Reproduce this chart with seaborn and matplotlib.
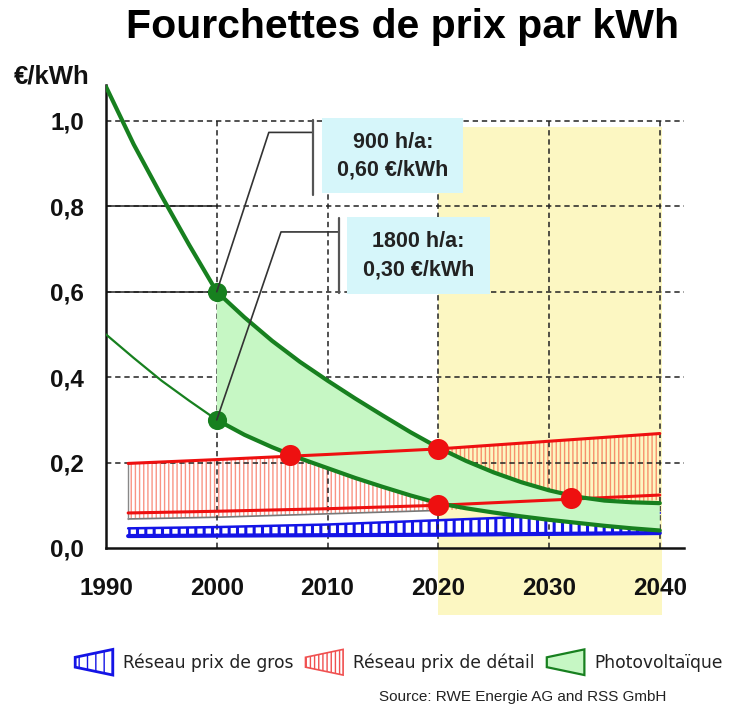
import matplotlib
matplotlib.use("Agg")
import matplotlib.pyplot as plt
import seaborn as sns
import pandas as pd
from matplotlib.patches import Polygon, Rectangle, Patch
from matplotlib.legend_handler import HandlerPatch

# ---------------- data ----------------
years = [1990, 1992.5, 1995, 1997.5, 2000, 2002.5, 2005, 2007.5, 2010, 2012.5, 2015,
         2017.5, 2020, 2022.5, 2025, 2027.5, 2030, 2032.5, 2035, 2037.5, 2040]
pv_900 = [1.080, 0.945, 0.825, 0.710, 0.600, 0.540, 0.485, 0.436, 0.392, 0.350, 0.310,
          0.271, 0.235, 0.204, 0.177, 0.154, 0.135, 0.120, 0.111, 0.107, 0.105]
pv_1800 = [0.500, 0.445, 0.392, 0.345, 0.300, 0.265, 0.236, 0.210, 0.187, 0.164, 0.143,
           0.123, 0.105, 0.093, 0.083, 0.074, 0.066, 0.059, 0.052, 0.046, 0.041]

band_years = [1992, 2000, 2010, 2020, 2030, 2040]
retail_high = [0.198, 0.207, 0.219, 0.232, 0.250, 0.268]
retail_low = [0.082, 0.086, 0.092, 0.100, 0.112, 0.124]
retail_shadow = [0.068, 0.072, 0.080, 0.088, 0.100, 0.112]
wholesale_low = [0.028, 0.029, 0.030, 0.031, 0.033, 0.035]
wholesale_high = [0.046, 0.049, 0.055, 0.065, 0.075, 0.082]

cross_x = [2006.6, 2020, 2020, 2032]
cross_y = [0.218, 0.232, 0.100, 0.116]
pv_start_x = [2000, 2000]
pv_start_y = [0.60, 0.30]

xticks = [1990, 2000, 2010, 2020, 2030, 2040]
yticks = [0.0, 0.2, 0.4, 0.6, 0.8, 1.0]
ytick_labels = ["0,0", "0,2", "0,4", "0,6", "0,8", "1,0"]

labels = ["Réseau prix de gros", "Réseau prix de détail", "Photovoltaïque"]
box_texts = ["900 h/a:\n0,60 €/kWh", "1800 h/a:\n0,30 €/kWh"]

# ---------------- style ----------------
sns.set_theme(style="white")
plt.rcParams["font.family"] = ["Liberation Sans", "DejaVu Sans"]
plt.rcParams["hatch.linewidth"] = 1.0

GREEN_D = "#17801f"
GREEN_L = "#c6f7c4"
RED = "#ee1010"
BLUE = "#1414e6"
YELLOW = "#fcf7c2"
CYAN = "#d6f6fa"

fig = plt.figure(figsize=(7.46, 7.06), dpi=100)
ax = fig.add_axes([0.1421, 0.2238, 0.775, 0.6558])
ax.set_xlim(1990, 2042.2)
ax.set_ylim(0, 1.084)

# yellow forecast zone (extends below the axis)
ax.add_patch(Rectangle((2020, -0.157), 20.2, 0.985 + 0.157, facecolor=YELLOW,
                       edgecolor="none", zorder=0.1, clip_on=False))

# grid
for y in yticks[1:]:
    ax.plot([1990, 2042.2], [y, y], color="#222222", lw=1.1, ls=(0, (3.5, 2.5)), zorder=2.2)
for y in [0.6, 0.8]:
    ax.plot([1990, 2000], [y, y], color="#222222", lw=1.1, zorder=2.2)
for x in xticks[1:]:
    ax.plot([x, x], [0, 1.0], color="#222222", lw=1.1, ls=(0, (3.5, 2.5)), zorder=2.2)

# retail band (red hatch)
with plt.rc_context({"hatch.linewidth": 1.0}):
    red_fill = ax.fill_between(band_years, retail_shadow, retail_high, facecolor="none",
                               edgecolor=(0.96, 0.3, 0.2, 0.6), hatch="||||", linewidth=0,
                               zorder=2)
    if hasattr(red_fill, "set_hatch_linewidth"):
        red_fill.set_hatch_linewidth(1.0)
ax.plot(band_years[:4], retail_shadow[:4], color="#777777", lw=1.2, zorder=2.1)
ax.plot([band_years[0], band_years[0]], [retail_shadow[0], retail_high[0]], color="#888888",
        lw=1.0, zorder=2.1)

# wholesale band (blue boxes)
with plt.rc_context({"hatch.linewidth": 2.2}):
    blue_fill = ax.fill_between(band_years, wholesale_low, wholesale_high, facecolor="white",
                                edgecolor=BLUE, hatch="||", linewidth=0, zorder=2)
    if hasattr(blue_fill, "set_hatch_linewidth"):
        blue_fill.set_hatch_linewidth(2.2)
ax.plot(band_years, wholesale_low, color=BLUE, lw=3, zorder=2.5)
ax.plot(band_years, wholesale_high, color=BLUE, lw=1.8, zorder=2.5)

# photovoltaic range
ax.fill_between(years[4:], pv_1800[4:], pv_900[4:], facecolor=GREEN_L, edgecolor="none", zorder=3)

df_ret = pd.DataFrame({"year": band_years * 2, "value": retail_high + retail_low,
                       "s": ["h"] * len(band_years) + ["l"] * len(band_years)})
sns.lineplot(data=df_ret, x="year", y="value", units="s", estimator=None, color=RED,
             lw=2.2, ax=ax, zorder=4)

df_pv = pd.DataFrame({"year": years, "p900": pv_900, "p1800": pv_1800})
sns.lineplot(data=df_pv, x="year", y="p900", color=GREEN_D, lw=3, ax=ax, zorder=4.5)
sns.lineplot(data=df_pv.iloc[:5], x="year", y="p1800", color=GREEN_D, lw=1.6, ax=ax, zorder=4.5)
sns.lineplot(data=df_pv.iloc[4:], x="year", y="p1800", color=GREEN_D, lw=3, ax=ax, zorder=4.5)

sns.scatterplot(x=pv_start_x, y=pv_start_y, color=GREEN_D, s=190, linewidth=0, ax=ax, zorder=6)
sns.scatterplot(x=cross_x, y=cross_y, color=RED, s=230, linewidth=0, ax=ax, zorder=6)

# annotation boxes with leader lines
ax.plot([2000, 2004.7, 2008.7], [0.60, 0.973, 0.973], color="#333333", lw=1.2, zorder=7)
ax.plot([2008.7, 2008.7], [1.002, 0.827], color="#555555", lw=1.6, zorder=7)
ax.add_patch(Rectangle((2009.5, 0.831), 12.7, 0.176, facecolor=CYAN, edgecolor="none", zorder=7))
ax.text(2015.9, 0.917, box_texts[0], ha="center", va="center", fontsize=15.5,
        fontweight="bold", color="#222222", linespacing=1.45, zorder=8)

ax.plot([2000, 2005.8, 2011.0], [0.30, 0.740, 0.740], color="#333333", lw=1.2, zorder=7)
ax.plot([2011.0, 2011.0], [0.773, 0.597], color="#555555", lw=1.6, zorder=7)
ax.add_patch(Rectangle((2011.75, 0.595), 12.9, 0.180, facecolor=CYAN, edgecolor="none", zorder=7))
ax.text(2018.2, 0.685, box_texts[1], ha="center", va="center", fontsize=15.5,
        fontweight="bold", color="#222222", linespacing=1.45, zorder=8)

# axes cosmetics
ax.set_xlabel("")
ax.set_ylabel("")
ax.set_xticks(xticks)
ax.set_xticklabels([str(x) for x in xticks])
ax.set_yticks(yticks)
ax.set_yticklabels(ytick_labels)
for lab in ax.get_xticklabels() + ax.get_yticklabels():
    lab.set_fontweight("bold")
    lab.set_fontsize(17.5)
    lab.set_color("#111111")
ax.tick_params(axis="x", direction="out", length=7, width=1.6, pad=14, colors="#111111")
ax.tick_params(axis="y", direction="out", length=7, width=1.6, pad=9, colors="#111111")
ax.tick_params(axis="both", labelcolor="#111111")
for side in ["top", "right"]:
    ax.spines[side].set_visible(False)
for side in ["left", "bottom"]:
    ax.spines[side].set_color("#111111")
    ax.spines[side].set_linewidth(1.8)
ax.patch.set_alpha(0)

# texts
fig.text(0.54, 0.962, "Fourchettes de prix par kWh", ha="center", va="center",
         fontsize=29.5, fontweight="bold", color="#000000")
fig.text(0.018, 0.892, "€/kWh", ha="left", va="center", fontsize=18.5, fontweight="bold",
         color="#111111")
fig.text(0.70, 0.013, "Source: RWE Energie AG and RSS GmbH", ha="center", va="center",
         fontsize=11, color="#222222", family=["Liberation Sans Narrow", "Liberation Sans"])


# legend with trapezoid handles
class TrapezoidHandler(HandlerPatch):
    def create_artists(self, legend, orig_handle, xdescent, ydescent, width, height,
                       fontsize, trans):
        x0, y0 = -xdescent, -ydescent
        pts = [[x0, y0 + 0.25 * height], [x0 + width, y0 - 0.15 * height],
               [x0 + width, y0 + 1.15 * height], [x0, y0 + 0.75 * height]]
        p = Polygon(pts, closed=True, facecolor=orig_handle.get_facecolor(),
                    edgecolor=orig_handle.get_edgecolor(), hatch=orig_handle.get_hatch(),
                    linewidth=orig_handle.get_linewidth(), transform=trans)
        return [p]


handles = [
    Patch(facecolor="white", edgecolor=BLUE, hatch="||", linewidth=2.0),
    Patch(facecolor="white", edgecolor="#f05050", hatch="||||", linewidth=1.2),
    Patch(facecolor=GREEN_L, edgecolor=GREEN_D, linewidth=1.6),
]
leg = fig.legend(handles, labels, loc="center", bbox_to_anchor=(0.535, 0.062), ncol=3,
                 frameon=False, handlelength=2.2, handleheight=1.4, handletextpad=0.6,
                 columnspacing=0.7, prop={"family": "DejaVu Sans", "size": 12.3},
                 handler_map={Patch: TrapezoidHandler()})
for t in leg.get_texts():
    t.set_color("#222222")

fig.savefig("out.png", dpi=100)
